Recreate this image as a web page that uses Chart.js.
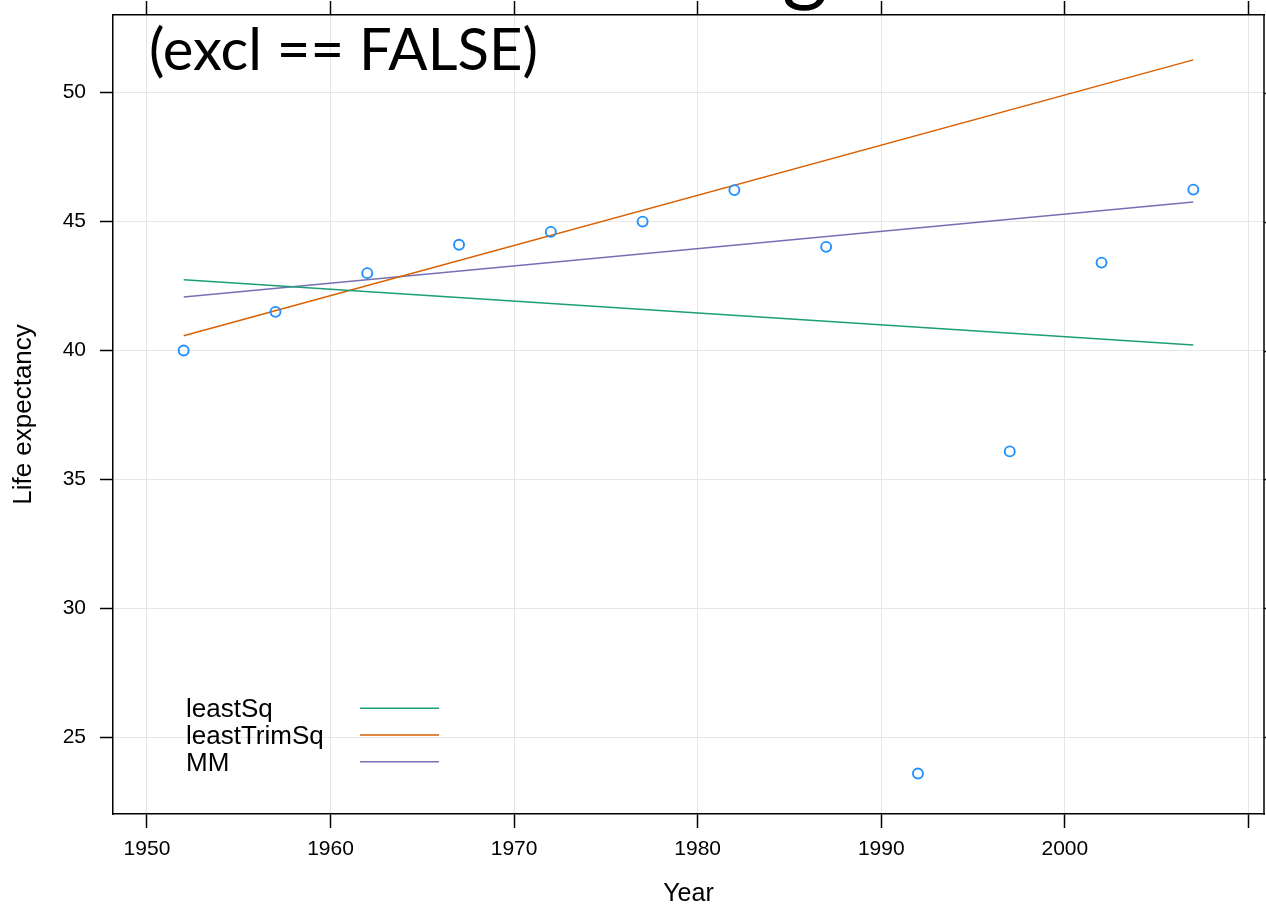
<!DOCTYPE html>
<html>
<head>
<meta charset="utf-8">
<title>Life expectancy</title>
<script src="https://cdn.jsdelivr.net/npm/chart.js@4.4.0/dist/chart.umd.min.js"></script>
<style>
  html, body { margin: 0; padding: 0; background: #fff; }
  #wrap { width: 1266px; height: 913px; }
</style>
</head>
<body>
<div id="wrap"><canvas id="fitChart" width="1266" height="913"></canvas></div>
<script>
// Observed life expectancy by survey year
const years = [1952, 1957, 1962, 1967, 1972, 1977, 1982, 1987, 1992, 1997, 2002, 2007];
const lifeExp = [40.0, 41.5, 43.0, 44.1, 44.6, 45.0, 46.22, 44.02, 23.6, 36.09, 43.41, 46.24];

// Fitted lines, evaluated at the first and last year
const fitYears = [1952, 2007];
const leastSq = [42.74, 40.21];
const leastTrimSq = [40.57, 51.27];
const mm = [42.08, 45.76];
const fitNames = ["leastSq", "leastTrimSq", "MM"];
const fitColors = ["#1B9E77", "#D95F02", "#7570B3"];

// Axes
const xTicks = [1950, 1960, 1970, 1980, 1990, 2000, 2010];
const xTickLabels = ["1950", "1960", "1970", "1980", "1990", "2000", ""];
const yTicks = [25, 30, 35, 40, 45, 50];
const xLimits = [1948.15, 2010.85];
const yLimits = [22.03, 53.01];

const panelTitle = "(excl == FALSE)";
const pageTitleTail = "g";

Chart.defaults.font.family = "'Liberation Sans', Arial, sans-serif";
Chart.defaults.color = "#000";

const toPoints = (xs, ys) => xs.map((x, i) => ({ x: x, y: ys[i] }));

// fixed axis box sizes, no extra room for label overhang
const fixSize = (w, h) => (s) => {
  if (w !== null) s.width = w;
  if (h !== null) s.height = h;
  s.paddingTop = 0;
  s.paddingBottom = 0;
  s.paddingLeft = 0;
  s.paddingRight = 0;
};
const setTicks = (vals) => (s) => { s.ticks = vals.map((v) => ({ value: v })); };

// right side of the box: frame line and outward ticks
const rightFrame = {
  id: "rightFrame",
  afterDraw(chart) {
    const ctx = chart.ctx;
    const area = chart.chartArea;
    const ys = chart.scales.y;
    ctx.save();
    ctx.strokeStyle = "#000";
    ctx.lineWidth = 1.5;
    ctx.beginPath();
    ctx.moveTo(area.right, area.top - 0.75);
    ctx.lineTo(area.right, area.bottom + 0.75);
    yTicks.forEach((v) => {
      const py = Math.round(ys.getPixelForValue(v)) + 0.5;
      ctx.moveTo(area.right, py);
      ctx.lineTo(area.right + 10, py);
    });
    ctx.stroke();
    ctx.restore();
  }
};

// strip text inside the panel plus the key in the lower left corner
const panelText = {
  id: "panelText",
  afterDraw(chart) {
    const ctx = chart.ctx;
    const area = chart.chartArea;
    ctx.save();
    ctx.fillStyle = "#000";
    ctx.textAlign = "left";
    ctx.textBaseline = "alphabetic";

    ctx.font = "88px Lato, 'Open Sans', sans-serif";
    ctx.fillText(pageTitleTail, 782, -6);

    ctx.font = "58px Lato, 'Open Sans', sans-serif";
    ctx.fillText(panelTitle, area.left + 36, area.top + 55);

    ctx.font = "26px 'Liberation Sans', Arial, sans-serif";
    const fits = chart.data.datasets.slice(1);
    fits.forEach((ds, i) => {
      const base = area.bottom - 96.7 + i * 26.7;
      ctx.fillStyle = "#000";
      ctx.fillText(ds.label, area.left + 73, base);
      ctx.strokeStyle = ds.borderColor;
      ctx.lineWidth = 1.5;
      ctx.beginPath();
      ctx.moveTo(area.left + 247, base - 9);
      ctx.lineTo(area.left + 326, base - 9);
      ctx.stroke();
    });
    ctx.restore();
  }
};

const gridColor = "#e6e6e6";
const frame = { color: "#000", width: 1.5 };

new Chart(document.getElementById("fitChart"), {
  type: "scatter",
  data: {
    datasets: [
      {
        label: "Life expectancy",
        data: toPoints(years, lifeExp),
        pointStyle: "circle",
        pointRadius: 5,
        pointBorderWidth: 1.9,
        borderColor: "#1E90FF",
        backgroundColor: "rgba(0,0,0,0)",
        showLine: false
      },
      {
        label: fitNames[0],
        data: toPoints(fitYears, leastSq),
        showLine: true,
        borderColor: fitColors[0],
        borderWidth: 1.5,
        pointRadius: 0
      },
      {
        label: fitNames[1],
        data: toPoints(fitYears, leastTrimSq),
        showLine: true,
        borderColor: fitColors[1],
        borderWidth: 1.5,
        pointRadius: 0
      },
      {
        label: fitNames[2],
        data: toPoints(fitYears, mm),
        showLine: true,
        borderColor: fitColors[2],
        borderWidth: 1.5,
        pointRadius: 0
      }
    ]
  },
  options: {
    responsive: false,
    animation: false,
    devicePixelRatio: 1,
    layout: { autoPadding: false, padding: { top: 0, left: 0, bottom: 0, right: 2 } },
    plugins: {
      legend: { display: false },
      tooltip: { enabled: false }
    },
    scales: {
      x: {
        type: "linear",
        position: "bottom",
        min: xLimits[0],
        max: xLimits[1],
        afterBuildTicks: setTicks(xTicks),
        afterFit: fixSize(null, 99),
        ticks: {
          autoSkip: false,
          maxRotation: 0,
          padding: 9,
          font: { size: 21 },
          callback: (v, i) => xTickLabels[i]
        },
        grid: { color: gridColor, tickColor: "#000", tickLength: 14, tickWidth: 1.5 },
        border: frame,
        title: { display: true, text: "Year", font: { size: 25 }, padding: { top: 0, bottom: 4 } }
      },
      x2: {
        type: "linear",
        position: "top",
        min: xLimits[0],
        max: xLimits[1],
        afterBuildTicks: setTicks(xTicks),
        afterFit: fixSize(null, 15),
        ticks: { display: false },
        grid: { drawOnChartArea: false, tickColor: "#000", tickLength: 14, tickWidth: 1.5 },
        border: frame
      },
      y: {
        type: "linear",
        position: "left",
        min: yLimits[0],
        max: yLimits[1],
        afterBuildTicks: setTicks(yTicks),
        afterFit: fixSize(113, null),
        ticks: {
          padding: 14,
          font: { size: 21 },
          callback: (v) => String(v)
        },
        grid: { color: gridColor, tickColor: "#000", tickLength: 13, tickWidth: 1.5 },
        border: frame,
        title: { display: true, text: "Life expectancy", font: { size: 26 }, padding: { top: 8, bottom: 0 } }
      }
    }
  },
  plugins: [rightFrame, panelText]
});
</script>
</body>
</html>
